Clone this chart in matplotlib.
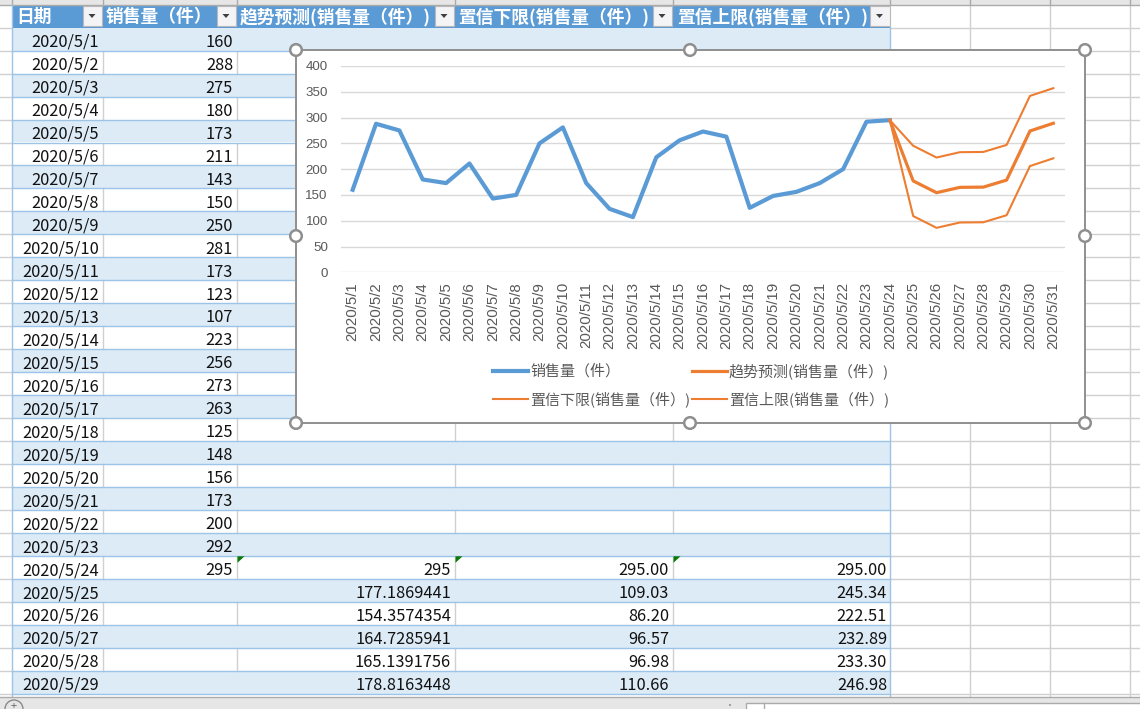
import matplotlib
matplotlib.use("Agg")
import matplotlib.pyplot as plt
from matplotlib.patches import Rectangle, Circle, Polygon

plt.rcParams['font.family'] = ['Noto Sans CJK SC', 'DejaVu Sans']

# data
dates = ["2020/5/%d" % d for d in range(1, 32)]
headers = ["日期", "销售量（件）", "趋势预测(销售量（件）)", "置信下限(销售量（件）)", "置信上限(销售量（件）)"]
legend_names = ["销售量（件）", "趋势预测(销售量（件）)", "置信下限(销售量（件）)", "置信上限(销售量（件）)"]
sales = [160, 288, 275, 180, 173, 211, 143, 150, 250, 281, 173, 123, 107, 223, 256, 273,
         263, 125, 148, 156, 173, 200, 292, 295]
forecast = [295, 177.1869441, 154.3574354, 164.7285941, 165.1391756, 178.8163448, 274, 289]
lower = [295.00, 109.03, 86.20, 96.57, 96.98, 110.66, 206, 221]
upper = [295.00, 245.34, 222.51, 232.89, 233.30, 246.98, 342, 357]
y_ticks = [0, 50, 100, 150, 200, 250, 300, 350, 400]

BLUE = "#5b9bd5"
ORANGE = "#ed7d31"
BAND = "#ddebf7"
ROWLINE = "#9dc3e6"
GRID = "#d0d0d0"
TXT = "#595959"

W, H = 1140, 709
col_x = [12, 102.5, 236.5, 454.5, 672.5, 890]
extra_x = [970, 1050, 1130]
top = 27.7
row_h = 22.96
n_rows = 29

fig = plt.figure(figsize=(W / 100, H / 100), dpi=100)
bg = fig.add_axes([0, 0, 1, 1])
bg.set_xlim(0, W)
bg.set_ylim(H, 0)
bg.axis("off")

# sheet grid outside of the table
for i in range(n_rows + 1):
    y = top + i * row_h
    bg.plot([0, 12], [y, y], color=GRID, lw=1, zorder=1)
    bg.plot([890, W], [y, y], color=GRID, lw=1, zorder=1)
for x in extra_x:
    bg.plot([x, x], [4, 696], color=GRID, lw=1, zorder=1)

# column letters strip
bg.add_patch(Rectangle((0, 0), W, 4.5, fc="#e6e6e6", ec="none", zorder=2))
bg.plot([0, W], [4.5, 4.5], color="#ababab", lw=1, zorder=3)
for x in [12] + col_x[1:] + extra_x:
    bg.plot([x, x], [0, 4.5], color="#ababab", lw=1, zorder=3)

# header row
bg.add_patch(Rectangle((12, 5), 878, top - 5, fc=BLUE, ec="none", zorder=2))
head_x = [16, 106, 240, 458, 677]
for x, name in zip(head_x, headers):
    bg.text(x, 17, name, color="white", fontsize=12.8, fontweight="bold", ha="left", va="center", zorder=4)
for x in col_x[1:]:
    bg.add_patch(Rectangle((x - 20, 6), 19.5, 19.5, fc="#f4f4f6", ec="#b8b8b8", lw=0.8, zorder=4))
    bg.add_patch(Polygon([(x - 14, 14), (x - 7, 14), (x - 10.5, 18)], fc="#404040", ec="none", zorder=5))

# table rows
for i in range(n_rows):
    y0 = top + i * row_h
    y1 = y0 + row_h
    if i % 2 == 0:
        bg.add_patch(Rectangle((12, y0), 878, row_h, fc=BAND, ec="none", zorder=2))
    else:
        for x in col_x[1:-1]:
            bg.plot([x, x], [y0, y1], color=GRID, lw=1, zorder=2.5)
    bg.plot([12, 890], [y1, y1], color=ROWLINE, lw=1, zorder=3)
    yc = (y0 + y1) / 2 + 3.3
    bg.text(99, yc, dates[i], color="#111111", fontsize=11.8, ha="right", va="center", zorder=4)
    if i < len(sales):
        bg.text(233, yc, str(sales[i]), color="#111111", fontsize=11.8, ha="right", va="center", zorder=4)
    j = i - (len(sales) - 1)
    if j >= 0:
        bg.text(451, yc, "%.10g" % forecast[j], color="#111111", fontsize=11.8, ha="right", va="center", zorder=4)
        bg.text(669, yc, "%.2f" % lower[j], color="#111111", fontsize=11.8, ha="right", va="center", zorder=4)
        bg.text(887, yc, "%.2f" % upper[j], color="#111111", fontsize=11.8, ha="right", va="center", zorder=4)
    if j == 0:
        for x in col_x[2:5]:
            bg.add_patch(Polygon([(x + 1, y0 + 0.5), (x + 8, y0 + 0.5), (x + 1, y0 + 7)], fc="#0b7a0b", ec="none", zorder=5))
bg.plot([12, 12], [5, 696], color=ROWLINE, lw=1, zorder=3)
bg.plot([890, 890], [27, 696], color=ROWLINE, lw=1, zorder=3)

# status bar
bg.add_patch(Rectangle((0, 696.5), W, H - 696.5, fc="#e6e6e6", ec="none", zorder=6))
bg.plot([0, W], [696.5, 696.5], color="#ababab", lw=1, zorder=7)
bg.add_patch(Circle((14, 709), 9, fc="#e6e6e6", ec="#8a8a8a", lw=1, zorder=7))
bg.text(14, 706, "+", color="#666666", fontsize=8, ha="center", va="center", zorder=8)
bg.add_patch(Rectangle((729, 704), 2, 2, fc="#a0a0a0", ec="none", zorder=7))
bg.add_patch(Rectangle((745.5, 702.5), W - 745, 8, fc="white", ec="#ababab", lw=1, zorder=7))
bg.plot([764, 764], [702.5, H], color="#ababab", lw=1, zorder=8)

# chart box and its handles
bg.add_patch(Rectangle((296, 50), 789, 373, fc="white", ec="#8f8f8f", lw=1.4, zorder=10))
for hx, hy in [(296, 50), (690, 50), (1085, 50), (296, 236), (1085, 236), (296, 423), (690, 423), (1085, 423)]:
    bg.add_patch(Circle((hx, hy), 5.8, fc="white", ec="#8f8f8f", lw=1.8, zorder=11))

# chart
ax = fig.add_axes([341 / W, 1 - 272.3 / H, (1065 - 341) / W, (272.3 - 66) / H])
ax.patch.set_alpha(0)
ax.set_zorder(5)
xs = list(range(len(dates)))
fc_x = xs[len(sales) - 1:]
l1, = ax.plot(xs[:len(sales)], sales, color=BLUE, lw=3, solid_joinstyle="round")
l3, = ax.plot(fc_x, lower, color=ORANGE, lw=1.5)
l4, = ax.plot(fc_x, upper, color=ORANGE, lw=1.5)
l2, = ax.plot(fc_x, forecast, color=ORANGE, lw=2.3)
ax.set_xlim(-0.5, 30.5)
ax.set_ylim(0, 400)
ax.set_yticks(y_ticks)
ax.set_xticks(xs)
ax.set_xticklabels(dates, rotation=90, fontsize=10.8, color=TXT, family="Liberation Sans", ha="center", va="top")
ax.tick_params(axis="x", length=0, pad=7)
ax.tick_params(axis="y", length=0, pad=9.5, labelsize=9.6, labelcolor=TXT)
for t in ax.get_yticklabels():
    t.set_family("Liberation Sans")
ax.grid(axis="y", color="#d9d9d9", lw=1)
ax.set_axisbelow(True)
for s in ax.spines.values():
    s.set_visible(False)

leg = ax.legend([l1, l3, l2, l4],
                [legend_names[0], legend_names[2], legend_names[1], legend_names[3]],
                ncol=2, frameon=False, fontsize=10.8, labelcolor=TXT,
                loc="upper left", bbox_to_anchor=((493 - 341) / 724, (272.3 - 363) / 206.3),
                borderaxespad=0, borderpad=0, handlelength=2.33, handletextpad=0.15,
                columnspacing=0.1, labelspacing=0.8)

fig.savefig("out.png", dpi=100)
